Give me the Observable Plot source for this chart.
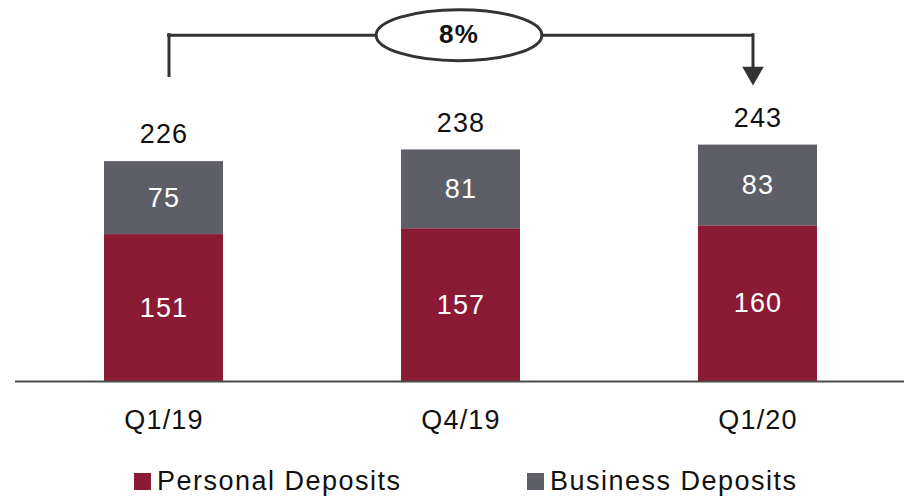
<!DOCTYPE html>
<html>
<head>
<meta charset="utf-8">
<script src="https://cdn.jsdelivr.net/npm/d3@7"></script>
<script src="https://cdn.jsdelivr.net/npm/@observablehq/plot@0.6"></script>
<style>
  body { margin: 0; background: #fff; font-family: "Liberation Sans", Arial, sans-serif; }
  #chart svg text { letter-spacing: 1.2px; }
  #legend { position: relative; height: 46px; width: 904px; font-size: 27px; letter-spacing: 1.5px; color: #111; }
  .item { position: absolute; top: 16px; display: flex; align-items: center; }
  .sw { width: 17px; height: 17px; margin-right: 6px; }
</style>
</head>
<body>
<div id="chart"></div>
<div id="legend"></div>
<script>
const quarters = ["Q1/19", "Q4/19", "Q1/20"];
const personal = [151, 157, 160];
const business = [75, 81, 83];
const totals = [226, 238, 243];
const seriesNames = ["Personal Deposits", "Business Deposits"];
const seriesColors = ["#8B1A34", "#5E5E66"];
const growthLabel = "8%";
const growthFrom = "Q1/19";
const growthTo = "Q1/20";

// annotation levels (data units)
const bracketTop = 356;
const bracketStart = 314;
const bracketEnd = 322;
const arrowHead = 317;

const long = [];
quarters.forEach((q, i) => {
  long.push({quarter: q, series: seriesNames[0], value: personal[i]});
  long.push({quarter: q, series: seriesNames[1], value: business[i]});
});
const totalsData = quarters.map((q, i) => ({quarter: q, total: totals[i]}));
const bracketLeft = [{quarter: growthFrom, y1: bracketStart, y2: bracketTop}];
const bracketRight = [{quarter: growthTo, y1: bracketTop, y2: bracketEnd}];
const bracketTopRow = [{y: bracketTop}];

const ellipseSymbol = {
  draw(ctx, size) {
    const r = Math.sqrt(size / Math.PI);
    const rx = r * 3.25, ry = r, k = 0.5523;
    ctx.moveTo(rx, 0);
    ctx.bezierCurveTo(rx, ry * k, rx * k, ry, 0, ry);
    ctx.bezierCurveTo(-rx * k, ry, -rx, ry * k, -rx, 0);
    ctx.bezierCurveTo(-rx, -ry * k, -rx * k, -ry, 0, -ry);
    ctx.bezierCurveTo(rx * k, -ry, rx, -ry * k, rx, 0);
    ctx.closePath();
  }
};

const plot = Plot.plot({
  width: 904,
  height: 450,
  marginTop: 0,
  marginBottom: 69,
  marginLeft: 73,
  marginRight: 57,
  style: {fontFamily: "'Liberation Sans', Arial, sans-serif", fontSize: "27px", color: "#111", background: "#fff"},
  x: {domain: quarters, paddingInner: 0.6, paddingOuter: 0.1, label: null},
  y: {domain: [0, 391.6], axis: null},
  color: {domain: seriesNames, range: seriesColors},
  marks: [
    Plot.barY(long, {x: "quarter", y: "value", fill: "series"}),
    Plot.text(long, Plot.stackY({x: "quarter", y: "value", text: d => String(d.value), fill: "#fff", fontSize: 27})),
    Plot.text(totalsData, {x: "quarter", y: "total", text: d => String(d.total), dy: -27, fill: "#111", fontSize: 27}),
    Plot.ruleY([0], {stroke: "#4a4a4a", strokeWidth: 2, insetLeft: -58, insetRight: -57}),
    Plot.axisX({tickSize: 0, tickPadding: 28, fontSize: 27, fill: "#111"}),
    Plot.ruleX(bracketLeft, {x: "quarter", y1: "y1", y2: "y2", stroke: "#333", strokeWidth: 3, dx: 5, strokeLinecap: "square"}),
    Plot.ruleX(bracketRight, {x: "quarter", y1: "y1", y2: "y2", stroke: "#333", strokeWidth: 3, dx: -5, strokeLinecap: "square"}),
    Plot.ruleY(bracketTopRow, {y: "y", stroke: "#333", strokeWidth: 3, insetLeft: 94, insetRight: 95}),
    Plot.dot([{quarter: growthTo, y: arrowHead}], {x: "quarter", y: "y", symbol: "triangle", rotate: 180, r: 8, fill: "#333", stroke: "none", dx: -5}),
    Plot.dot([{quarter: quarters[1], y: bracketTop}], {x: "quarter", y: "y", symbol: ellipseSymbol, r: 25.5, fill: "#fff", stroke: "#333", strokeWidth: 3, dx: -2}),
    Plot.text([{quarter: quarters[1], y: bracketTop, label: growthLabel}], {x: "quarter", y: "y", text: "label", fontWeight: "bold", fontSize: 26, fill: "#111", dx: -2})
  ]
});
document.getElementById("chart").appendChild(plot);

const legend = document.getElementById("legend");
const lefts = [134, 527];
seriesNames.forEach((name, i) => {
  const item = document.createElement("div");
  item.className = "item";
  item.style.left = lefts[i] + "px";
  const sw = document.createElement("span");
  sw.className = "sw";
  sw.style.background = seriesColors[i];
  const label = document.createElement("span");
  label.textContent = name;
  item.appendChild(sw);
  item.appendChild(label);
  legend.appendChild(item);
});
</script>
</body>
</html>
